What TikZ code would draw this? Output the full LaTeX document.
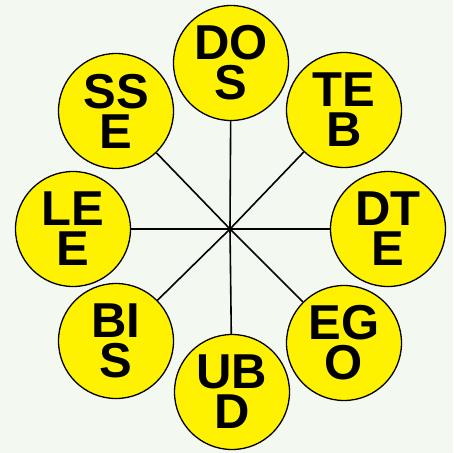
\documentclass[tikz,border=0pt]{standalone}
\usepackage{fontspec}
\setmainfont{Liberation Sans}
\definecolor{paper}{RGB}{243,248,241}
\begin{document}
\begin{tikzpicture}[x=1pt,y=-1pt,
    letter/.style={circle,draw=black,line width=1.3pt,fill=yellow,minimum size=115pt,inner sep=0pt,
      align=center,font=\fontsize{49}{40}\selectfont\bfseries},
    spoke/.style={line width=1.6pt}]
        % background
        \fill[paper] (0,0) rectangle (453,453);
        \useasboundingbox (0,0) rectangle (453,453);
        \coordinate (hub) at (230,229);
        % ring of circles
        \node[letter] (dos) at (231,63) {DO\\S};
        \node[letter] (teb) at (344,110) {TE\\B};
        \node[letter] (dte) at (388,229) {DT\\E};
        \node[letter] (ego) at (344,343) {EG\\O};
        \node[letter] (ubd) at (232,392) {UB\\D};
        \node[letter] (bis) at (116,341) {BI\\S};
        \node[letter] (lee) at (73,229) {LE\\E};
        \node[letter] (sse) at (116,111) {SS\\E};
        % spokes
        \draw[spoke] (hub) -- (dos);
        \draw[spoke] (hub) -- (teb);
        \draw[spoke] (hub) -- (dte);
        \draw[spoke] (hub) -- (ego);
        \draw[spoke] (hub) -- (ubd);
        \draw[spoke] (hub) -- (bis);
        \draw[spoke] (hub) -- (lee);
        \draw[spoke] (hub) -- (sse);
    \end{tikzpicture}
\end{document}
